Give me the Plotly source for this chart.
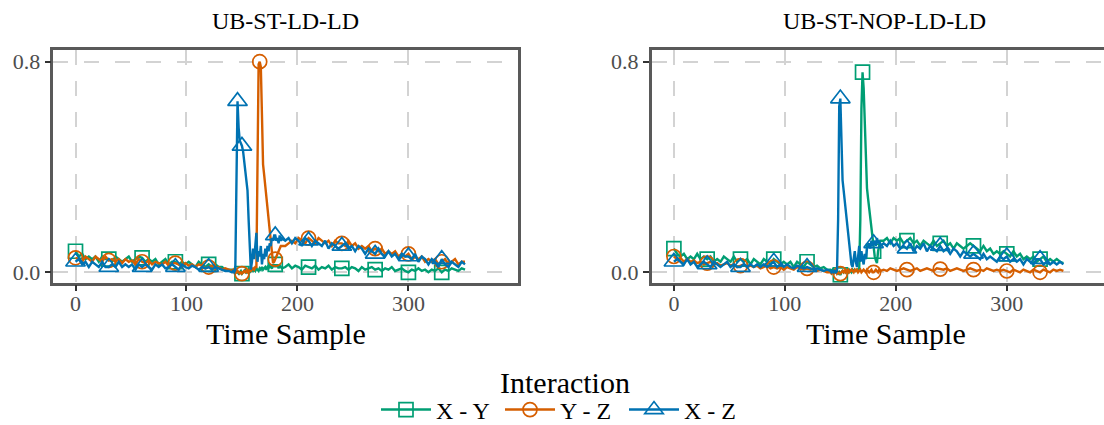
import plotly.graph_objects as go

# ---------------- data ----------------
# sample index axis (denser around the peaks)
time_sample = list(range(0, 139, 3)) + list(range(141, 187)) + list(range(189, 352, 3))

panels = ["UB-ST-LD-LD", "UB-ST-NOP-LD-LD"]
series_names = ["X - Y", "Y - Z", "X - Z"]

# ---- panel 1: UB-ST-LD-LD ----
xy_p1 = [
    0.08, 0.06, 0.07, 0.05, 0.06, 0.05, 0.06, 0.04, 0.06, 0.05, 0.05, 0.04, 0.06, 0.05, 0.04, 0.05,
    0.06, 0.04, 0.05, 0.06, 0.055, 0.04, 0.05, 0.04, 0.05, 0.03, 0.04, 0.05, 0.03, 0.04, 0.04, 0.03,
    0.04, 0.03, 0.04, 0.03, 0.02, 0.04, 0.03, 0.02, 0.03, 0.02, 0.03, 0.02, 0.02, 0.01, 0.01,
    # 141..186
    0.01, 0.005, 0.01, 0.0, 0.005, 0.0, -0.005, 0.0, 0.005, -0.005, 0.0, 0.005, 0.01, 0.0, 0.005, 0.01,
    0.0, 0.005, 0.01, 0.005, 0.01, 0.005, 0.015, 0.01, 0.005, 0.015, 0.01, 0.02, 0.01, 0.015, 0.02, 0.01,
    0.02, 0.015, 0.025, 0.02, 0.015, 0.03, 0.02, 0.03, 0.02, 0.03, 0.015, 0.025, 0.02, 0.015,
    # 189..351
    0.02, 0.03, 0.015, 0.025, 0.02, 0.01, 0.025, 0.02, 0.015, 0.025, 0.01, 0.02, 0.015, 0.025, 0.01, 0.02,
    0.015, 0.015, 0.02, 0.01, 0.02, 0.015, 0.005, 0.02, 0.01, 0.015, 0.02, 0.01, 0.015, 0.005, 0.015, 0.01,
    0.02, 0.005, 0.01, 0.015, 0.005, 0.0, 0.01, 0.005, 0.015, 0.005, 0.01, 0.0, 0.01, 0.005, 0.015, 0.0,
    0.01, 0.005, 0.015, 0.01, 0.005, 0.015, 0.01,
]
yz_p1 = [
    0.055, 0.05, 0.04, 0.06, 0.05, 0.04, 0.06, 0.05, 0.04, 0.06, 0.045, 0.05, 0.04, 0.05, 0.035, 0.05,
    0.04, 0.045, 0.03, 0.05, 0.04, 0.035, 0.045, 0.03, 0.04, 0.035, 0.03, 0.04, 0.025, 0.035, 0.035, 0.03,
    0.02, 0.035, 0.025, 0.03, 0.02, 0.03, 0.025, 0.015, 0.02, 0.025, 0.015, 0.02, 0.01, 0.015, 0.01,
    # 141..186
    0.005, 0.01, 0.0, 0.005, 0.0, 0.005, 0.0, -0.005, 0.0, -0.005, 0.0, 0.005, 0.0, 0.005, 0.0, 0.005,
    0.01, 0.005, 0.01, 0.015, 0.01, 0.02, 0.02, 0.4, 0.79, 0.8, 0.78, 0.6, 0.41, 0.37, 0.33, 0.29,
    0.24, 0.2, 0.16, 0.12, 0.08, 0.035, 0.04, 0.05, 0.06, 0.07, 0.08, 0.09, 0.1, 0.1,
    # 189..351
    0.1, 0.11, 0.12, 0.11, 0.13, 0.12, 0.11, 0.13, 0.12, 0.11, 0.13, 0.12, 0.11, 0.12, 0.1, 0.12,
    0.11, 0.11, 0.1, 0.12, 0.1, 0.11, 0.09, 0.1, 0.09, 0.1, 0.08, 0.09, 0.08, 0.09, 0.07, 0.08,
    0.07, 0.08, 0.06, 0.07, 0.06, 0.07, 0.05, 0.06, 0.05, 0.06, 0.04, 0.05, 0.04, 0.05, 0.03, 0.04,
    0.05, 0.03, 0.04, 0.05, 0.03, 0.04, 0.04,
]
xz_p1 = [
    0.04, 0.05, 0.03, 0.04, 0.02, 0.04, 0.03, 0.02, 0.04, 0.02, 0.02, 0.03, 0.02, 0.04, 0.02, 0.03,
    0.02, 0.03, 0.01, 0.03, 0.02, 0.03, 0.02, 0.01, 0.03, 0.02, 0.03, 0.015, 0.02, 0.03, 0.02, 0.01,
    0.03, 0.02, 0.015, 0.025, 0.02, 0.01, 0.02, 0.015, 0.02, 0.01, 0.02, 0.015, 0.01, 0.005, 0.005,
    # 141..186
    0.0, 0.005, 0.0, 0.01, 0.47, 0.65, 0.55, 0.5, 0.49, 0.48, 0.46, 0.42, 0.39, 0.35, 0.31, 0.2,
    0.09, 0.01, 0.04, 0.09, 0.05, 0.12, 0.15, 0.04, 0.08, 0.06, 0.1, 0.03, 0.07, 0.05, 0.09, 0.06,
    0.1, 0.08, 0.11, 0.1, 0.13, 0.12, 0.14, 0.14, 0.12, 0.13, 0.11, 0.14, 0.12, 0.13,
    # 189..351
    0.12, 0.13, 0.11, 0.13, 0.12, 0.1, 0.13, 0.12, 0.1, 0.12, 0.11, 0.1, 0.12, 0.09, 0.11, 0.1,
    0.09, 0.1, 0.11, 0.09, 0.1, 0.08, 0.1, 0.09, 0.07, 0.09, 0.08, 0.07, 0.09, 0.07, 0.06, 0.08,
    0.06, 0.07, 0.05, 0.07, 0.06, 0.06, 0.05, 0.07, 0.04, 0.06, 0.05, 0.03, 0.05, 0.04, 0.02, 0.05,
    0.03, 0.02, 0.04, 0.03, 0.02, 0.04, 0.03,
]

# ---- panel 2: UB-ST-NOP-LD-LD ----
xy_p2 = [
    0.09, 0.07, 0.06, 0.07, 0.05, 0.06, 0.05, 0.07, 0.05, 0.06, 0.05, 0.06, 0.04, 0.05, 0.04, 0.06,
    0.05, 0.04, 0.06, 0.04, 0.05, 0.04, 0.05, 0.03, 0.05, 0.04, 0.03, 0.05, 0.04, 0.03, 0.05, 0.04,
    0.03, 0.04, 0.03, 0.04, 0.02, 0.04, 0.03, 0.02, 0.04, 0.03, 0.02, 0.025, 0.015, 0.02, 0.01,
    # 141..186
    0.01, 0.005, 0.01, 0.005, 0.0, 0.005, 0.0, -0.005, 0.0, -0.01, 0.0, 0.005, 0.0, 0.005, 0.0, 0.005,
    0.0, 0.01, 0.005, 0.0, 0.01, 0.005, 0.01, 0.005, 0.01, 0.005, 0.01, 0.2, 0.62, 0.76, 0.7, 0.55,
    0.37, 0.32, 0.28, 0.24, 0.2, 0.16, 0.12, 0.08, 0.06, 0.045, 0.035, 0.08, 0.11, 0.12,
    # 189..351
    0.12, 0.13, 0.11, 0.13, 0.12, 0.13, 0.11, 0.12, 0.13, 0.11, 0.12, 0.1, 0.12, 0.11, 0.1, 0.12,
    0.1, 0.11, 0.12, 0.1, 0.11, 0.09, 0.11, 0.1, 0.09, 0.1, 0.11, 0.1, 0.09, 0.08, 0.1, 0.08,
    0.09, 0.07, 0.08, 0.07, 0.08, 0.07, 0.06, 0.08, 0.06, 0.07, 0.05, 0.06, 0.05, 0.06, 0.04, 0.05,
    0.06, 0.04, 0.05, 0.04, 0.05, 0.04, 0.035,
]
yz_p2 = [
    0.06, 0.05, 0.055, 0.04, 0.05, 0.04, 0.045, 0.035, 0.04, 0.03, 0.035, 0.04, 0.03, 0.035, 0.025, 0.03,
    0.035, 0.025, 0.03, 0.02, 0.025, 0.03, 0.02, 0.025, 0.02, 0.025, 0.015, 0.02, 0.025, 0.015, 0.02, 0.015,
    0.02, 0.01, 0.02, 0.015, 0.01, 0.02, 0.015, 0.01, 0.015, 0.01, 0.015, 0.005, 0.01, 0.005, 0.0,
    # 141..186
    0.0, -0.005, 0.0, -0.005, 0.0, 0.005, -0.005, 0.0, -0.005, -0.005, 0.0, 0.005, 0.0, 0.01, 0.0, 0.005,
    0.01, 0.0, 0.005, 0.01, 0.005, 0.0, 0.01, 0.005, 0.01, 0.0, 0.005, 0.01, 0.0, 0.005, 0.01, 0.005,
    0.0, 0.01, 0.005, 0.0, 0.005, 0.01, 0.0, 0.0, 0.005, 0.01, 0.005, 0.0, 0.01, 0.005,
    # 189..351
    0.01, 0.005, 0.015, 0.01, 0.005, 0.01, 0.015, 0.01, 0.005, 0.01, 0.015, 0.005, 0.01, 0.015, 0.01, 0.005,
    0.015, 0.012, 0.01, 0.015, 0.005, 0.01, 0.015, 0.01, 0.005, 0.01, 0.015, 0.01, 0.005, 0.01, 0.005, 0.015,
    0.01, 0.005, 0.01, 0.005, 0.01, 0.005, 0.0, 0.01, 0.005, 0.0, 0.01, 0.005, 0.0, 0.01, 0.005, 0.0,
    0.01, 0.005, 0.0, 0.01, 0.005, 0.01, 0.005,
]
xz_p2 = [
    0.04, 0.05, 0.04, 0.03, 0.05, 0.03, 0.04, 0.02, 0.03, 0.04, 0.03, 0.02, 0.04, 0.03, 0.02, 0.03,
    0.04, 0.02, 0.03, 0.02, 0.02, 0.03, 0.02, 0.03, 0.02, 0.03, 0.02, 0.03, 0.02, 0.03, 0.04, 0.02,
    0.03, 0.02, 0.03, 0.02, 0.015, 0.025, 0.02, 0.015, 0.02, 0.015, 0.01, 0.015, 0.01, 0.005, 0.01,
    # 141..186
    0.005, 0.0, 0.005, 0.0, 0.005, 0.0, 0.005, 0.2, 0.63, 0.66, 0.5, 0.35, 0.31, 0.27, 0.22, 0.18,
    0.14, 0.1, 0.06, 0.03, 0.02, 0.05, 0.08, 0.04, 0.02, 0.06, 0.1, 0.04, 0.08, 0.05, 0.03, 0.07,
    0.05, 0.09, 0.1, 0.11, 0.09, 0.12, 0.1, 0.11, 0.12, 0.1, 0.13, 0.11, 0.12, 0.1,
    # 189..351
    0.11, 0.1, 0.12, 0.1, 0.11, 0.09, 0.1, 0.09, 0.11, 0.08, 0.1, 0.09, 0.11, 0.08, 0.1, 0.09,
    0.08, 0.1, 0.08, 0.09, 0.07, 0.09, 0.08, 0.06, 0.08, 0.07, 0.06, 0.07, 0.06, 0.05, 0.07, 0.05,
    0.06, 0.05, 0.04, 0.06, 0.05, 0.06, 0.04, 0.05, 0.04, 0.05, 0.03, 0.05, 0.04, 0.03, 0.05, 0.05,
    0.03, 0.04, 0.03, 0.04, 0.03, 0.04, 0.03,
]

# samples that carry a point symbol
marker_samples = [0, 30, 60, 90, 120, 150, 180, 210, 240, 270, 300, 330]
peak_samples = {
    (0, "Y - Z"): [166],
    (0, "X - Z"): [146],
    (1, "X - Y"): [170],
}

panel_values = [
    {"X - Y": xy_p1, "Y - Z": yz_p1, "X - Z": xz_p1},
    {"X - Y": xy_p2, "Y - Z": yz_p2, "X - Z": xz_p2},
]
for p in panel_values:
    for k, v in p.items():
        if len(v) != len(time_sample):
            raise ValueError(f"{k}: {len(v)} != {len(time_sample)}")

# ---------------- style ----------------
colors = {"X - Y": "#009E73", "Y - Z": "#D55E00", "X - Z": "#0072B2"}
symbols = {"X - Y": "square-open", "Y - Z": "circle-open", "X - Z": "triangle-up-open"}
msize = {"X - Y": 14, "Y - Z": 14, "X - Z": 17}
FONT = "Liberation Serif"
W, H = 1104, 425

fig = go.Figure()
axis_ids = [("x", "y"), ("x2", "y2")]
for pi, vals in enumerate(panel_values):
    xa, ya = axis_ids[pi]
    for name in series_names:
        y = vals[name]
        fig.add_trace(go.Scatter(
            x=time_sample, y=y, mode="lines", xaxis=xa, yaxis=ya,
            line=dict(color=colors[name], width=2.4), showlegend=False, hoverinfo="skip"))
        mx = sorted(set(marker_samples + peak_samples.get((pi, name), [])))
        my = [y[time_sample.index(s)] for s in mx]
        fig.add_trace(go.Scatter(
            x=mx, y=my, mode="markers", xaxis=xa, yaxis=ya,
            marker=dict(symbol=symbols[name], size=msize[name], color=colors[name],
                        line=dict(width=1.7, color=colors[name])),
            showlegend=False, hoverinfo="skip"))

# legend entries
for name in series_names:
    fig.add_trace(go.Scatter(
        x=[None], y=[None], mode="lines+markers", name=name,
        line=dict(color=colors[name], width=2.5),
        marker=dict(symbol=symbols[name], size=msize[name], color=colors[name],
                    line=dict(width=1.7, color=colors[name]))))

def px_x(p):
    return p / W

def px_y(p):
    return (H - p) / H

left_dom = [px_x(53.3), px_x(518.3)]
right_dom = [px_x(651.7), 1.0]
y_dom = [px_y(282.7), px_y(50)]

xcommon = dict(
    tickvals=[0, 100, 200, 300], ticktext=["0", "100", "200", "300"],
    showgrid=True, gridcolor="#d3d3d3", gridwidth=2, griddash="15px,16px",
    zeroline=False, showline=True, linecolor="#595959", linewidth=2.5,
    ticks="outside", ticklen=6, tickwidth=2, tickcolor="#333333", ticklabelstandoff=-7,
    tickfont=dict(family=FONT, size=22, color="#4d4d4d"), automargin=False,
)
ycommon = dict(
    range=[-0.0395, 0.8444], tickvals=[0.0, 0.8], ticktext=["0.0", "0.8"],
    showgrid=True, gridcolor="#d3d3d3", gridwidth=2, griddash="15px,16px",
    zeroline=False, showline=True, linecolor="#595959", linewidth=2.5,
    ticks="outside", ticklen=6, tickwidth=2, tickcolor="#333333",
    tickfont=dict(family=FONT, size=22, color="#4d4d4d"), domain=y_dom, automargin=False,
)

fig.update_layout(
    width=W, height=H,
    margin=dict(l=0, r=0, t=0, b=0, pad=0, autoexpand=False),
    paper_bgcolor="white", plot_bgcolor="white",
    font=dict(family=FONT, color="black"),
    xaxis=dict(domain=left_dom, range=[-20, 399], mirror=True, anchor="y", **xcommon),
    yaxis=dict(anchor="x", mirror=True, **ycommon),
    xaxis2=dict(domain=right_dom, range=[-20, 387.6], mirror=True, anchor="y2", **xcommon),
    yaxis2=dict(anchor="x2", mirror=False, **ycommon),
    legend=dict(orientation="h", x=px_x(562), xanchor="center", y=px_y(410), yanchor="middle",
                font=dict(family=FONT, size=24, color="black"), itemwidth=50,
                entrywidth=59, bgcolor="rgba(0,0,0,0)"),
    showlegend=True,
)

def label(text, xp, yp, size):
    return dict(text=text, x=px_x(xp), y=px_y(yp), xref="paper", yref="paper",
                xanchor="center", yanchor="middle", showarrow=False,
                font=dict(family=FONT, size=size, color="black"))

fig.update_layout(annotations=[
    label(panels[0], 285.5, 21, 24),
    label(panels[1], 884, 21, 24),
    label("Time Sample", 286, 333, 30),
    label("Time Sample", 886, 333, 30),
    label("Interaction", 565, 382, 30),
])

fig.write_html("out.html", config={"displayModeBar": False},
               post_script="document.body.style.margin='0px';document.body.style.overflow='hidden';")
